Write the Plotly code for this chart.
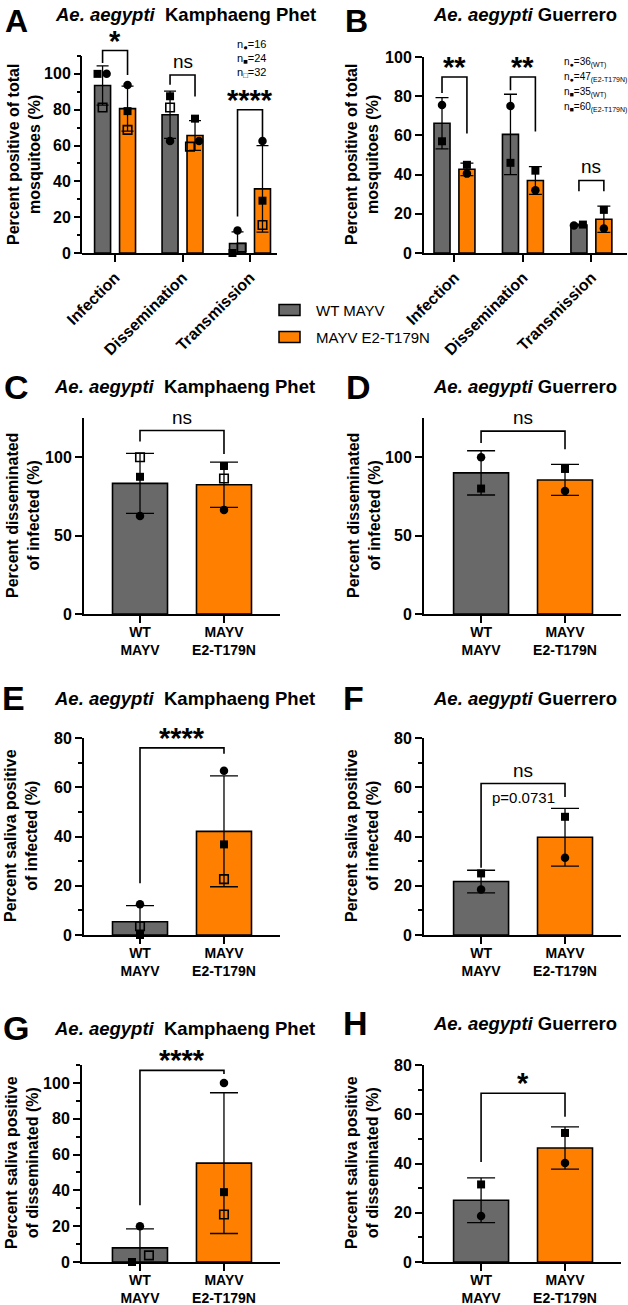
import plotly.graph_objects as go

W, H = 628, 1305
FONT = "Liberation Sans, Arial, Helvetica, sans-serif"
GRAY = "#696969"
ORANGE = "#FF8000"

# ------------------------------------------------------------------ data
groups = ["WT MAYV", "MAYV E2-T179N"]

# Panel A  (Kamphaeng Phet, percent of total)
A_categories = ["Infection", "Dissemination", "Transmission"]
A_wt_mean = [93.5, 77.2, 5.3]
A_wt_sd = [11.0, 13.2, 6.5]
A_mut_mean = [80.6, 65.6, 35.8]
A_mut_sd = [12.6, 8.3, 24.1]
A_wt_circle = [100.0, 62.5, 12.5]
A_wt_square = [100.0, 87.5, 0.0]
A_wt_open = [81.25, 81.25, 3.1]
A_mut_circle = [93.75, 62.5, 62.5]
A_mut_square = [79.2, 75.0, 29.2]
A_mut_open = [68.75, 59.4, 15.6]
A_sig = ["*", "ns", "****"]
A_brackets = [(106.0, 113.0, 99.4), (93.9, 99.4, 87.3), (20.4, 80.0, 64.0)]
A_n_labels = ["n<sub>●</sub>=16", "n<sub>■</sub>=24", "n<sub>□</sub>=32"]

# Panel B  (Guerrero, percent of total)
B_categories = ["Infection", "Dissemination", "Transmission"]
B_wt_mean = [66.2, 60.5, 14.3]
B_wt_sd = [13.1, 20.5, 0.4]
B_mut_mean = [42.7, 37.0, 17.2]
B_mut_sd = [3.2, 7.1, 6.7]
B_wt_circle = [75.5, 75.0, 14.0]
B_wt_square = [57.0, 46.0, 14.5]
B_mut_circle = [40.5, 32.0, 12.5]
B_mut_square = [45.0, 42.0, 22.0]
B_sig = ["**", "**", "ns"]
B_brackets = [(81.6, 89.8, 61.0), (83.0, 89.8, 62.0), (31.5, 37.0, 31.5)]
B_n_labels = ["n<sub>●</sub>=36<sub>(WT)</sub>", "n<sub>●</sub>=47<sub>(E2-T179N)</sub>",
              "n<sub>■</sub>=35<sub>(WT)</sub>", "n<sub>■</sub>=60<sub>(E2-T179N)</sub>"]

# Two-group panels
pair_ticks = ["WT<br>MAYV", "MAYV<br>E2-T179N"]

C_mean = [83.3, 82.4]
C_sd = [19.1, 14.4]
C_circle = [62.5, 66.4]
C_square = [87.5, 94.4]
C_open = [100.0, 86.4]
C_bracket = (110.0, 117.0, 102.0)
C_sig = "ns"

D_mean = [90.0, 85.5]
D_sd = [14.1, 9.9]
D_circle = [100.0, 78.5]
D_square = [80.0, 92.5]
D_bracket = (109.0, 116.6, 105.0)
D_sig = "ns"

E_mean = [5.4, 42.1]
E_sd = [6.5, 22.5]
E_circle = [12.5, 66.7]
E_square = [0.0, 36.8]
E_open = [3.6, 22.7]
E_bracket = (21.0, 76.0, 73.6)
E_sig = "****"

F_mean = [21.7, 39.7]
F_sd = [4.6, 11.7]
F_circle = [18.5, 31.4]
F_square = [25.0, 48.0]
F_bracket = (27.3, 61.5, 56.0)
F_sig = "ns"
F_pvalue, F_pvalue_y = "p=0.0731", 55.7

G_mean = [7.9, 55.2]
G_sd = [10.6, 39.3]
G_circle = [20.0, 100.0]
G_square = [0.0, 39.0]
G_open = [3.7, 26.5]
G_bracket = (31.7, 107.0, 105.0)
G_sig = "****"

H_mean = [25.1, 46.3]
H_sd = [9.1, 8.6]
H_circle = [18.7, 40.2]
H_square = [31.5, 52.4]
H_bracket = (40.6, 68.5, 59.0)
H_sig = "*"

# ------------------------------------------------------------------ helpers
fig = go.Figure()
layout = dict(
    width=W, height=H, margin=dict(l=0, r=0, t=0, b=0, autoexpand=False),
    paper_bgcolor="white", plot_bgcolor="white", showlegend=False,
    barmode="overlay", font=dict(family=FONT, color="black"),
    annotations=[], shapes=[], template="none",
)


def px(x):
    return x / W


def py(y):
    return 1 - y / H


def ids(k):
    return ("x" if k == 1 else f"x{k}", "y" if k == 1 else f"y{k}")


def lids(k):
    return ("xaxis" if k == 1 else f"xaxis{k}", "yaxis" if k == 1 else f"yaxis{k}")


MARK = {
    "circle": dict(symbol="circle", size=8.5, color="black", line=dict(width=0)),
    "square": dict(symbol="square", size=8, color="black", line=dict(width=0)),
    "open": dict(symbol="square-open", size=8.5, color="black", line=dict(width=1.6, color="black")),
}


def setup_axes(k, xdom, ydom, xr, yr, tickvals, ticktext, ytickvals, yminor,
               tickangle=0, xfont=14, yline=True, standoff=-3):
    xl, yl = lids(k)
    xa, ya = ids(k)
    layout[xl] = dict(
        domain=[px(xdom[0]), px(xdom[1])], range=list(xr), anchor=ya,
        tickvals=tickvals, ticktext=ticktext, tickangle=tickangle,
        showline=True, linewidth=2, linecolor="black", ticks="outside",
        ticklen=7, tickwidth=2, tickcolor="black", showgrid=False, zeroline=False,
        automargin=False, ticklabelstandoff=standoff,
        tickfont=dict(size=xfont, weight="bold", family=FONT, color="black"), fixedrange=True,
    )
    yd = dict(
        domain=[py(ydom[1]), py(ydom[0])], range=list(yr), anchor=xa,
        tickvals=ytickvals, showline=yline, linewidth=2, linecolor="black",
        ticks="outside", ticklen=7, tickwidth=2, tickcolor="black",
        showgrid=False, zeroline=False, automargin=False,
        tickfont=dict(size=16, weight="bold", family=FONT, color="black"), fixedrange=True,
    )
    if yminor:
        yd["minor"] = dict(tickvals=yminor, ticks="outside", ticklen=4, tickwidth=2,
                           tickcolor="black", showgrid=False)
    layout[yl] = yd


def add_bracket(k, x0, x1, br, label):
    xa, ya = ids(k)
    yl, yt, yr = br
    star = "*" in label
    fig.add_scatter(x=[x0, x0, x1, x1], y=[yl, yt, yt, yr], mode="lines",
                    line=dict(color="black", width=1.6), xaxis=xa, yaxis=ya,
                    hoverinfo="skip")
    layout["annotations"].append(dict(
        x=(x0 + x1) / 2, y=yt, xref=xa, yref=ya, text=label, showarrow=False,
        font=dict(size=29 if star else 19, family=FONT, weight="bold" if star else "normal"),
        yshift=-8 if star else 1, xanchor="center", yanchor="bottom"))


def text(x, y, t, size, xanchor="center", weight="normal", angle=0, yanchor="middle"):
    layout["annotations"].append(dict(
        x=px(x), y=py(y), xref="paper", yref="paper", text=t, showarrow=False,
        xanchor=xanchor, yanchor=yanchor, textangle=angle,
        font=dict(size=size, family=FONT, weight=weight, color="black")))


def grouped_panel(k, cats, means, sds, pts, jit, off, bw, cap, brackets, sigs):
    xa, ya = ids(k)
    colors = [GRAY, ORANGE]
    for g in range(2):
        sign = -1 if g == 0 else 1
        xs = [i + sign * off for i in range(len(cats))]
        fig.add_bar(x=xs, y=means[g], width=bw, name=groups[g],
                    marker=dict(color=colors[g], line=dict(color="black", width=1.6)),
                    error_y=dict(type="data", array=sds[g], visible=True, color="black",
                                 thickness=1.3, width=cap),
                    xaxis=xa, yaxis=ya, hoverinfo="skip")
        for sym, vals in pts[g].items():
            jj = jit.get((g, sym), [0] * len(vals))
            fig.add_scatter(x=[x + j for x, j in zip(xs, jj)], y=vals, mode="markers",
                            marker=MARK[sym], xaxis=xa, yaxis=ya, hoverinfo="skip",
                            cliponaxis=False)
    for i, br in enumerate(brackets):
        add_bracket(k, i - off, i + off, br, sigs[i])


def pair_panel(k, means, sds, pts, jit, bracket, sig):
    xa, ya = ids(k)
    fig.add_bar(x=[0, 1], y=means, width=0.655,
                marker=dict(color=[GRAY, ORANGE], line=dict(color="black", width=1.6)),
                error_y=dict(type="data", array=sds, visible=True, color="black",
                             thickness=1.3, width=14),
                xaxis=xa, yaxis=ya, hoverinfo="skip")
    for sym, vals in pts.items():
        jj = jit.get(sym, [0, 0])
        fig.add_scatter(x=[i + j for i, j in zip([0, 1], jj)], y=vals, mode="markers",
                        marker=MARK[sym], xaxis=xa, yaxis=ya, hoverinfo="skip",
                        cliponaxis=False)
    add_bracket(k, 0, 1, bracket, sig)


# ------------------------------------------------------------------ panels
t100 = [0, 20, 40, 60, 80, 100]
t80 = [0, 20, 40, 60, 80]
m110 = [10, 30, 50, 70, 90, 110]
m70 = [10, 30, 50, 70]

# A  (y range extended above the 110 axis end so the bracket is not clipped)
A_top = 110
A_yr = (0, 116)
setup_axes(1, (82, 277), (45.2, 253), (-0.49, 2.40), A_yr, [0, 1, 2], A_categories,
           t100, m110, tickangle=-45, xfont=16, yline=False, standoff=0)
yd0, yd1 = layout["yaxis"]["domain"]
layout["shapes"].append(dict(type="line", xref="paper", yref="paper",
                             x0=px(81), x1=px(81), y0=yd0 - 1 / H,
                             y1=yd0 + (A_top - A_yr[0]) / (A_yr[1] - A_yr[0]) * (yd1 - yd0),
                             line=dict(color="black", width=2)))
grouped_panel(
    1, A_categories, [A_wt_mean, A_mut_mean], [A_wt_sd, A_mut_sd],
    [{"circle": A_wt_circle, "square": A_wt_square, "open": A_wt_open},
     {"circle": A_mut_circle, "square": A_mut_square, "open": A_mut_open}],
    {(0, "circle"): [0.06, 0, 0], (0, "square"): [-0.075, 0, -0.075],
     (0, "open"): [0, 0, 0.06], (1, "circle"): [0, 0.06, 0], (1, "open"): [0, -0.075, 0]},
    0.185, 0.237, 6, A_brackets, A_sig)

# B
setup_axes(2, (424, 627), (57, 253), (-0.445, 2.52), (0, 100), [0, 1, 2], B_categories,
           t100, None, tickangle=-45, xfont=16, standoff=0)
grouped_panel(
    2, B_categories, [B_wt_mean, B_mut_mean], [B_wt_sd, B_mut_sd],
    [{"circle": B_wt_circle, "square": B_wt_square},
     {"circle": B_mut_circle, "square": B_mut_square}],
    {(0, "circle"): [0, 0, -0.073], (0, "square"): [0, 0, 0.058]},
    0.182, 0.234, 6.5, B_brackets, B_sig)

# C .. H
setup_axes(3, (84, 280), (418, 614), (-0.667, 1.667), (0, 125), [0, 1], pair_ticks,
           [0, 50, 100], None)
pair_panel(3, C_mean, C_sd, {"circle": C_circle, "square": C_square, "open": C_open},
           {}, C_bracket, C_sig)

setup_axes(4, (424, 621), (418, 614), (-0.68, 1.667), (0, 125), [0, 1], pair_ticks,
           [0, 50, 100], None)
pair_panel(4, D_mean, D_sd, {"circle": D_circle, "square": D_square}, {},
           D_bracket, D_sig)

setup_axes(5, (84, 280), (738, 935), (-0.667, 1.667), (0, 80), [0, 1], pair_ticks,
           t80, m70)
pair_panel(5, E_mean, E_sd, {"circle": E_circle, "square": E_square, "open": E_open},
           {}, E_bracket, E_sig)

setup_axes(6, (424, 621), (738, 935), (-0.68, 1.667), (0, 80), [0, 1], pair_ticks,
           t80, m70)
pair_panel(6, F_mean, F_sd, {"circle": F_circle, "square": F_square}, {},
           F_bracket, F_sig)
layout["annotations"].append(dict(x=0.5, y=F_pvalue_y, xref="x6", yref="y6", text=F_pvalue,
                                  showarrow=False, font=dict(size=15, family=FONT)))

setup_axes(7, (82, 280), (1065, 1262), (-0.69, 1.667), (0, 110), [0, 1], pair_ticks,
           t100, m110)
pair_panel(7, G_mean, G_sd, {"circle": G_circle, "square": G_square, "open": G_open},
           {"square": [-0.095, 0], "open": [0.107, 0]}, G_bracket, G_sig)

setup_axes(8, (424, 621), (1065, 1262), (-0.68, 1.667), (0, 80), [0, 1], pair_ticks,
           t80, m70)
pair_panel(8, H_mean, H_sd, {"circle": H_circle, "square": H_square}, {},
           H_bracket, H_sig)

# ------------------------------------------------------------------ texts
KP = "<b><i>Ae. aegypti</i>\u00a0 Kamphaeng Phet</b>"
GU = "<b><i>Ae. aegypti</i> Guerrero</b>"
for letter, lx, ly, title, tx in [
    ("A", 16, 15, KP, 53), ("B", 356, 15, GU, 431),
    ("C", 16, 387, KP, 52), ("D", 358, 387, GU, 431),
    ("E", 14, 698, KP, 52), ("F", 353, 698, GU, 431),
    ("G", 16, 1028, KP, 52), ("H", 355, 1023, GU, 431),
]:
    if ly < 30:
        text(lx, 0.5, letter, 32, weight="bold", yanchor="top")
    else:
        text(lx, ly, letter, 34, weight="bold")
    text(tx, ly, title, 18.5, xanchor="left")

for x, y, t in [
    (24, 155, "Percent positive of total<br>mosquitoes (%)"),
    (362, 155, "Percent positive of total<br>mosquitoes (%)"),
    (23, 516, "Percent disseminated<br>of infected (%)"),
    (364, 516, "Percent disseminated<br>of infected (%)"),
    (21, 836, "Percent saliva positive<br>of infected (%)"),
    (362, 836, "Percent saliva positive<br>of infected (%)"),
    (22, 1163, "Percent saliva positive<br>of disseminated (%)"),
    (362, 1163, "Percent saliva positive<br>of disseminated (%)"),
]:
    text(x, y, t, 16, weight="bold", angle=-90)

for i, t in enumerate(A_n_labels):
    text(235, 45 + i * 14, t, 11, xanchor="left")
for i, t in enumerate(B_n_labels):
    text(562, 63 + i * 15, t, 10, xanchor="left")

# legend
for i, (name, col) in enumerate(zip(groups, [GRAY, ORANGE])):
    yc = 310 + i * 27
    layout["shapes"].append(dict(type="rect", xref="paper", yref="paper",
                                 x0=px(279), x1=px(300), y0=py(yc + 5.5), y1=py(yc - 5.5),
                                 fillcolor=col, line=dict(color="black", width=1.5)))
    text(314, yc, name, 15, xanchor="left")

fig.update_layout(**layout)
fig.write_html("out.html", config={"responsive": False, "displayModeBar": False},
               post_script="document.body.style.margin='0';")
